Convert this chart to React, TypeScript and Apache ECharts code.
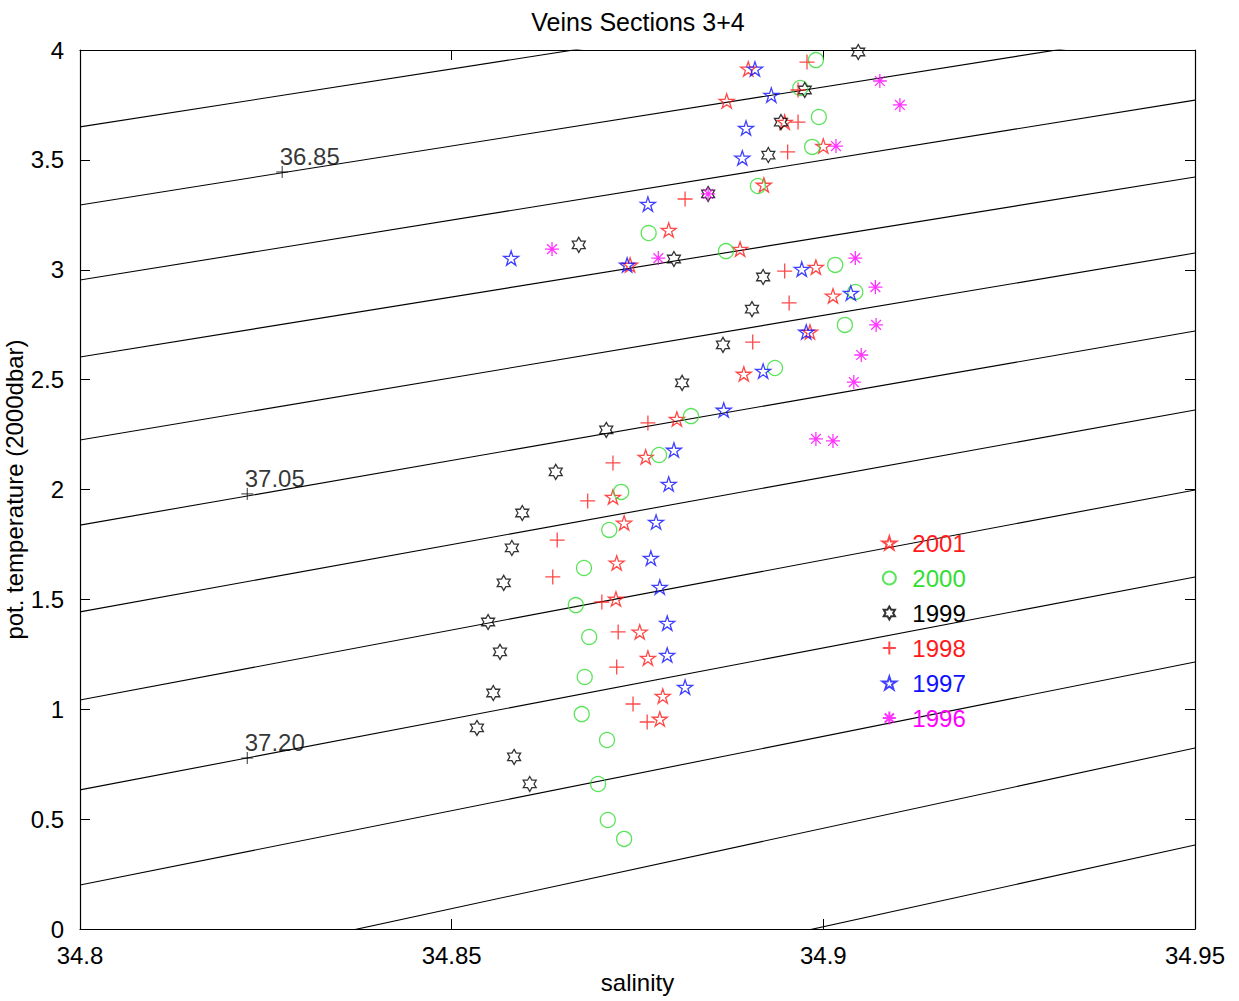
import React, { useEffect, useRef } from "react";
import * as echarts from "echarts";

// ---------------- data ----------------
const years = ["2001", "2000", "1999", "1998", "1997", "1996"];

const d2001: number[][] = [
  [34.8899, 3.914], [34.887, 3.768], [34.8948, 3.672], [34.9, 3.563], [34.892, 3.386],
  [34.8792, 3.181], [34.8888, 3.094], [34.874, 3.022], [34.899, 3.012], [34.9013, 2.881],
  [34.8982, 2.717], [34.8893, 2.526], [34.8803, 2.321], [34.8761, 2.148], [34.8717, 1.966],
  [34.8732, 1.848], [34.8722, 1.666], [34.8721, 1.502], [34.8753, 1.352], [34.8764, 1.233],
  [34.8784, 1.06], [34.878, 0.956],
];
const d2000: number[][] = [
  [34.899, 3.954], [34.8969, 3.827], [34.8994, 3.695], [34.8985, 3.559], [34.8912, 3.381],
  [34.8765, 3.167], [34.8869, 3.085], [34.9016, 3.022], [34.9043, 2.899], [34.9029, 2.749],
  [34.8935, 2.553], [34.8822, 2.334], [34.8779, 2.157], [34.8728, 1.989], [34.8712, 1.816],
  [34.8678, 1.643], [34.8667, 1.474], [34.8685, 1.329], [34.8679, 1.147], [34.8675, 0.978],
  [34.8709, 0.86], [34.8697, 0.66], [34.871, 0.496], [34.8732, 0.41],
];
const d1999: number[][] = [
  [34.9047, 3.991], [34.8975, 3.818], [34.8943, 3.672], [34.8926, 3.522], [34.8845, 3.345],
  [34.8671, 3.113], [34.8799, 3.049], [34.8919, 2.967], [34.8904, 2.821], [34.8865, 2.658],
  [34.881, 2.485], [34.8708, 2.271], [34.864, 2.08], [34.8595, 1.893], [34.8581, 1.734],
  [34.857, 1.575], [34.8549, 1.397], [34.8565, 1.261], [34.8556, 1.074], [34.8534, 0.915],
  [34.8584, 0.783], [34.8605, 0.66],
];
const d1998: number[][] = [
  [34.8978, 3.945], [34.8966, 3.818], [34.8966, 3.672], [34.8952, 3.536], [34.8814, 3.322],
  [34.8948, 2.994], [34.8954, 2.849], [34.8905, 2.671], [34.8764, 2.303], [34.8717, 2.121],
  [34.8683, 1.948], [34.8642, 1.77], [34.8636, 1.602], [34.8702, 1.488], [34.8724, 1.352],
  [34.8722, 1.192], [34.8744, 1.024], [34.8763, 0.942],
];
const d1997: number[][] = [
  [34.8908, 3.914], [34.893, 3.795], [34.8896, 3.645], [34.8891, 3.509], [34.8764, 3.299],
  [34.858, 3.053], [34.8736, 3.022], [34.8971, 3.003], [34.9037, 2.894], [34.8977, 2.717],
  [34.8919, 2.539], [34.8866, 2.362], [34.8799, 2.18], [34.8792, 2.025], [34.8775, 1.852],
  [34.8768, 1.688], [34.878, 1.556], [34.879, 1.392], [34.879, 1.247], [34.8814, 1.101],
];
const d1996: number[][] = [
  [34.9076, 3.859], [34.9103, 3.75], [34.9017, 3.563], [34.8845, 3.345], [34.8635, 3.094],
  [34.8778, 3.053], [34.9043, 3.053], [34.907, 2.921], [34.9071, 2.749], [34.9051, 2.612],
  [34.9041, 2.489], [34.899, 2.23], [34.9013, 2.221],
];

// isopycnal (sigma-2) contour lines: temperature at salinity 34.80 and 34.95
const contourLevels = ["36.80", "36.85", "36.90", "36.95", "37.00", "37.05", "37.10", "37.15", "37.20", "37.25", "37.30", "37.35"];
const contourSal = [34.8, 34.95];
const contourTLeft = [3.65, 3.295, 2.953, 2.603, 2.225, 1.838, 1.443, 1.042, 0.633, 0.2, -0.273, -0.733];
const contourTRight = [4.441, 4.1, 3.772, 3.422, 3.076, 2.721, 2.362, 1.998, 1.602, 1.215, 0.824, 0.382];

// contour labels
const labelText = ["36.85", "37.05", "37.20"];
const labelSal = [34.8272, 34.8225, 34.8225];
const labelTemp = [3.445, 1.98, 0.778];

const xTicks = { min: 34.8, max: 34.95, interval: 0.05 };
const yTicks = { min: 0, max: 4, interval: 0.5 };

// ---------------- styling ----------------
const FONT = '"Liberation Sans", Arial, Helvetica, sans-serif';
const FS = 24;
const RED = "#ff1a1a";
const GREEN = "#33dd33";
const BLACK = "#000000";
const BLUE = "#1010ff";
const MAGENTA = "#ff00ff";

const PENTAGRAM =
  "path://M0,-1L0.2245,-0.309L0.9511,-0.309L0.3633,0.118L0.5878,0.809L0,0.382L-0.5878,0.809L-0.3633,0.118L-0.9511,-0.309L-0.2245,-0.309Z";
const HEXAGRAM =
  "path://M0,-1L0.2887,-0.5L0.866,-0.5L0.577,0L0.866,0.5L0.2887,0.5L0,1L-0.2887,0.5L-0.866,0.5L-0.577,0L-0.866,-0.5L-0.2887,-0.5Z";
const PLUS = "path://M0,-1L0,1M-1,0L1,0";
const ASTERISK = "path://M0,-1L0,1M-1,0L1,0M-0.7,-0.7L0.7,0.7M-0.7,0.7L0.7,-0.7";

const seriesDefs = [
  { name: "2001", data: d2001, symbol: PENTAGRAM, color: RED, size: 15 },
  { name: "2000", data: d2000, symbol: "circle", color: GREEN, size: 15 },
  { name: "1999", data: d1999, symbol: HEXAGRAM, color: BLACK, size: 15 },
  { name: "1998", data: d1998, symbol: PLUS, color: RED, size: 15 },
  { name: "1997", data: d1997, symbol: PENTAGRAM, color: BLUE, size: 15 },
  { name: "1996", data: d1996, symbol: ASTERISK, color: MAGENTA, size: 14 },
];

function fmt(v: number) {
  return String(Math.round(v * 100) / 100);
}

export default function App() {
  const ref = useRef<HTMLDivElement>(null);
  useEffect(() => {
    if (!ref.current) return;
    const chart = echarts.init(ref.current, undefined, { renderer: "svg" });

    const axisCommon = {
      axisLine: { show: true, onZero: false, lineStyle: { color: "#000", width: 1.2 } },
      axisTick: { show: true, inside: true, length: 10, lineStyle: { color: "#000", width: 1 } },
      splitLine: { show: false },
    };

    const contourSeries = contourLevels.map((lv, i) => ({
      name: "c" + lv,
      type: "line",
      xAxisIndex: 0,
      yAxisIndex: 0,
      data: [
        [contourSal[0], contourTLeft[i]],
        [contourSal[1], contourTRight[i]],
      ],
      symbol: "none",
      clip: true,
      silent: true,
      lineStyle: { color: "#000", width: 1.1 },
      z: 1,
    }));

    const scatterSeries = seriesDefs.map((s) => ({
      name: s.name,
      type: "scatter",
      xAxisIndex: 0,
      yAxisIndex: 0,
      data: s.data,
      symbol: s.symbol,
      symbolSize: s.size,
      symbolKeepAspect: true,
      itemStyle: { color: "none", borderColor: s.color, borderWidth: 1.3 },
      z: 3,
    }));

    const labelSeries = {
      name: "labels",
      type: "scatter",
      xAxisIndex: 0,
      yAxisIndex: 0,
      data: labelText.map((t, i) => ({ name: t, value: [labelSal[i], labelTemp[i]] })),
      symbol: PLUS,
      symbolSize: 12,
      itemStyle: { color: "none", borderColor: "#000", borderWidth: 1 },
      label: {
        show: true,
        formatter: (p: any) => p.name,
        position: [6, 5],
        align: "left",
        verticalAlign: "bottom",
        fontFamily: FONT,
        fontSize: FS,
        color: "#000",
      },
      silent: true,
      z: 4,
    };

    chart.setOption({
      animation: false,
      backgroundColor: "#ffffff",
      textStyle: { fontFamily: FONT },
      grid: { left: 80, right: 44, top: 50, bottom: 72, containLabel: false, outerBoundsMode: "none" },
      graphic: [
        {
          type: "text",
          x: 638,
          y: 22,
          style: {
            text: "Veins Sections 3+4",
            font: `25px ${FONT}`,
            fill: "#000",
            align: "center",
            verticalAlign: "middle",
          },
        },
      ],
      legend: {
        show: true,
        orient: "vertical",
        left: 875,
        top: 526,
        itemWidth: 36,
        itemHeight: 13,
        itemGap: 11,
        selectedMode: false,
        textStyle: { fontFamily: FONT, fontSize: FS },
        data: seriesDefs.map((s) => ({ name: s.name, textStyle: { color: s.color } })),
      },
      xAxis: [
        {
          type: "value",
          position: "bottom",
          ...xTicks,
          ...axisCommon,
          axisLabel: { show: true, color: "#000", fontFamily: FONT, fontSize: FS, margin: 14, formatter: fmt },
          name: "salinity",
          nameLocation: "middle",
          nameGap: 41,
          nameMoveOverlap: false,
          nameTextStyle: { color: "#000", fontFamily: FONT, fontSize: FS },
        },
        {
          type: "value",
          position: "top",
          ...xTicks,
          ...axisCommon,
          axisLabel: { show: false },
        },
      ],
      yAxis: [
        {
          type: "value",
          position: "left",
          ...yTicks,
          ...axisCommon,
          axisLabel: { show: true, color: "#000", fontFamily: FONT, fontSize: FS, margin: 16, formatter: fmt },
          name: "pot. temperature (2000dbar)",
          nameLocation: "middle",
          nameGap: 54,
          nameMoveOverlap: false,
          nameTextStyle: { color: "#000", fontFamily: FONT, fontSize: FS },
        },
        {
          type: "value",
          position: "right",
          ...yTicks,
          ...axisCommon,
          axisLabel: { show: false },
        },
      ],
      series: [...contourSeries, ...scatterSeries, labelSeries],
    });

    return () => chart.dispose();
  }, []);

  return (
    <div
      ref={ref}
      style={{ position: "fixed", left: 0, top: 0, width: 1239, height: 1001, background: "#fff" }}
    />
  );
}
